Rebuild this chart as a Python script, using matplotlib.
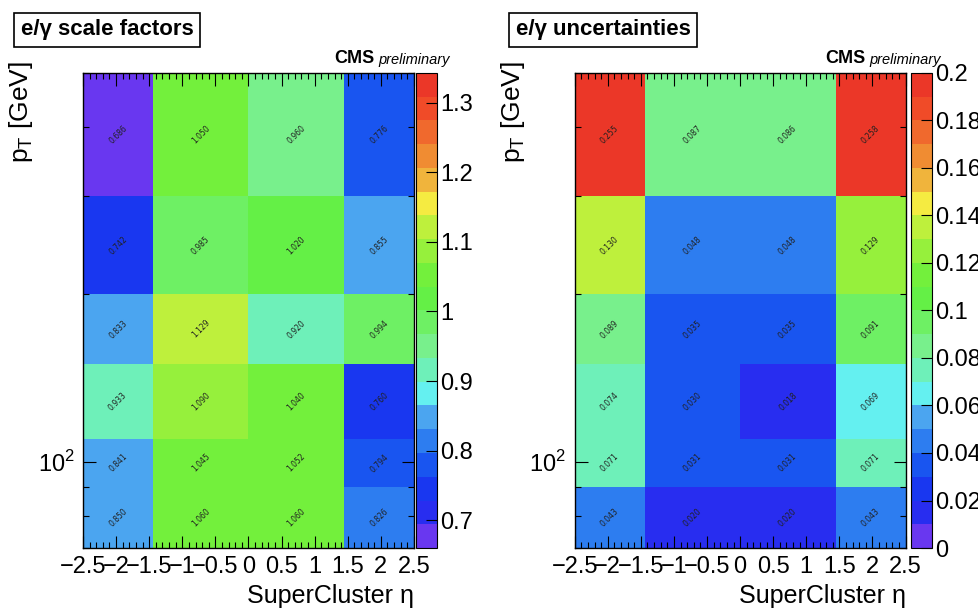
import numpy as np
import matplotlib
matplotlib.use("Agg")
import matplotlib.pyplot as plt
from matplotlib.colors import ListedColormap, Normalize
from matplotlib.ticker import FixedLocator, MultipleLocator, NullFormatter, LogLocator

plt.rcParams['font.family'] = ['Liberation Sans', 'DejaVu Sans']
plt.rcParams['mathtext.fontset'] = 'custom'
plt.rcParams['mathtext.rm'] = 'Liberation Sans'

# binning
eta_edges = [-2.5, -1.4442, 0.0, 1.4442, 2.5]
pt_edges = [70, 90, 110, 150, 200, 300, 500]

# values, rows = pt bins (low -> high), cols = eta bins
sf_vals = [
    [0.850, 1.060, 1.060, 0.826],
    [0.841, 1.045, 1.052, 0.794],
    [0.933, 1.090, 1.040, 0.760],
    [0.833, 1.129, 0.920, 0.994],
    [0.742, 0.985, 1.020, 0.855],
    [0.686, 1.050, 0.960, 0.776],
]
unc_vals = [
    [0.043, 0.020, 0.020, 0.043],
    [0.071, 0.031, 0.031, 0.071],
    [0.074, 0.030, 0.018, 0.069],
    [0.089, 0.035, 0.035, 0.091],
    [0.130, 0.048, 0.048, 0.129],
    [0.255, 0.087, 0.086, 0.258],
]

# ROOT-like 20 step rainbow palette
palette = [
    (105, 55, 240), (40, 45, 240), (25, 55, 240), (25, 85, 240),
    (45, 125, 240), (75, 165, 240), (100, 240, 240), (110, 240, 185),
    (120, 240, 140), (110, 240, 100), (100, 240, 70), (115, 240, 60),
    (150, 240, 60), (190, 240, 60), (245, 235, 65), (240, 180, 60),
    (240, 140, 50), (240, 105, 45), (240, 75, 40), (235, 55, 40),
]
cmap = ListedColormap([(r / 255, g / 255, b / 255) for r, g, b in palette])

fig = plt.figure(figsize=(9.79, 6.1), dpi=100)

panels = [
    (sf_vals, (0.66, 1.343), [0.7, 0.8, 0.9, 1.0, 1.1, 1.2, 1.3],
     ["0.7", "0.8", "0.9", "1", "1.1", "1.2", "1.3"], "e/\u03b3 scale factors",
     0.0848, 0.425, 0.021),
    (unc_vals, (0.0, 0.2), [0, 0.02, 0.04, 0.06, 0.08, 0.1, 0.12, 0.14, 0.16, 0.18, 0.2],
     ["0", "0.02", "0.04", "0.06", "0.08", "0.1", "0.12", "0.14", "0.16", "0.18", "0.2"],
     "e/\u03b3 uncertainties", 0.587, 0.9305, 0.527),
]

for vals, zr, cticks, clabels, title, x0, cx0, tx in panels:
    ax = fig.add_axes([x0, 0.1016, 0.338, 0.779])
    z = np.array(vals)
    mesh = ax.pcolormesh(eta_edges, pt_edges, z, cmap=cmap,
                         norm=Normalize(vmin=zr[0], vmax=zr[1]), shading='flat')
    ax.set_yscale('log')
    ax.set_xlim(-2.5, 2.5)
    ax.set_ylim(70, 500)

    # cell labels
    for i in range(len(pt_edges) - 1):
        yc = np.sqrt(pt_edges[i] * pt_edges[i + 1])
        for j in range(len(eta_edges) - 1):
            xc = 0.5 * (eta_edges[j] + eta_edges[j + 1])
            ax.text(xc, yc, "%.3f" % z[i, j], rotation=45, ha='center', va='center',
                    fontsize=5.5, family='DejaVu Sans', color='#202020')

    xt = np.arange(-2.5, 2.51, 0.5)
    ax.set_xticks(xt)
    ax.set_xticklabels([("%g" % t).replace("-", "\u2212") for t in xt], fontsize=17)
    ax.xaxis.set_minor_locator(MultipleLocator(0.1))
    ax.yaxis.set_major_locator(FixedLocator([100]))
    ax.yaxis.set_minor_locator(LogLocator(base=10, subs=np.arange(2, 10)))
    ax.yaxis.set_minor_formatter(NullFormatter())
    ax.set_yticklabels([r"$10^{2}$"], fontsize=17)
    ax.tick_params(which='both', direction='in', top=True, right=True, width=0.8)
    ax.tick_params(which='major', length=9, pad=6)
    ax.tick_params(which='minor', length=4.5)
    for s in ax.spines.values():
        s.set_linewidth(1.0)

    ax.set_xlabel("SuperCluster \u03b7", fontsize=18, loc='right', labelpad=4)
    ax.set_ylabel(r"p$_{\mathregular{T}}$ [GeV]", fontsize=19, labelpad=4)
    ax.yaxis.set_label_coords(-0.145, 1.025)
    ax.yaxis.label.set_horizontalalignment('right')

    # CMS label
    ax.text(0.88, 1.012, "CMS", transform=ax.transAxes, fontsize=13, fontweight='bold',
            ha='right', va='bottom')
    ax.text(0.892, 1.012, "preliminary", transform=ax.transAxes, fontsize=10.5,
            style='italic', ha='left', va='bottom')

    # title box
    fig.text(tx, 0.951, title, fontsize=16, fontweight='bold', ha='left', va='center',
             bbox=dict(boxstyle='square,pad=0.3', fc='white', ec='black', lw=1.2))

    cax = fig.add_axes([cx0, 0.1016, 0.0215, 0.779])
    cb = fig.colorbar(mesh, cax=cax)
    cb.set_ticks(cticks)
    cb.set_ticklabels(clabels)
    cax.tick_params(direction='in', length=8, width=0.8, labelsize=17, pad=2)
    cb.outline.set_linewidth(0.8)

fig.savefig("out.png", dpi=100)
